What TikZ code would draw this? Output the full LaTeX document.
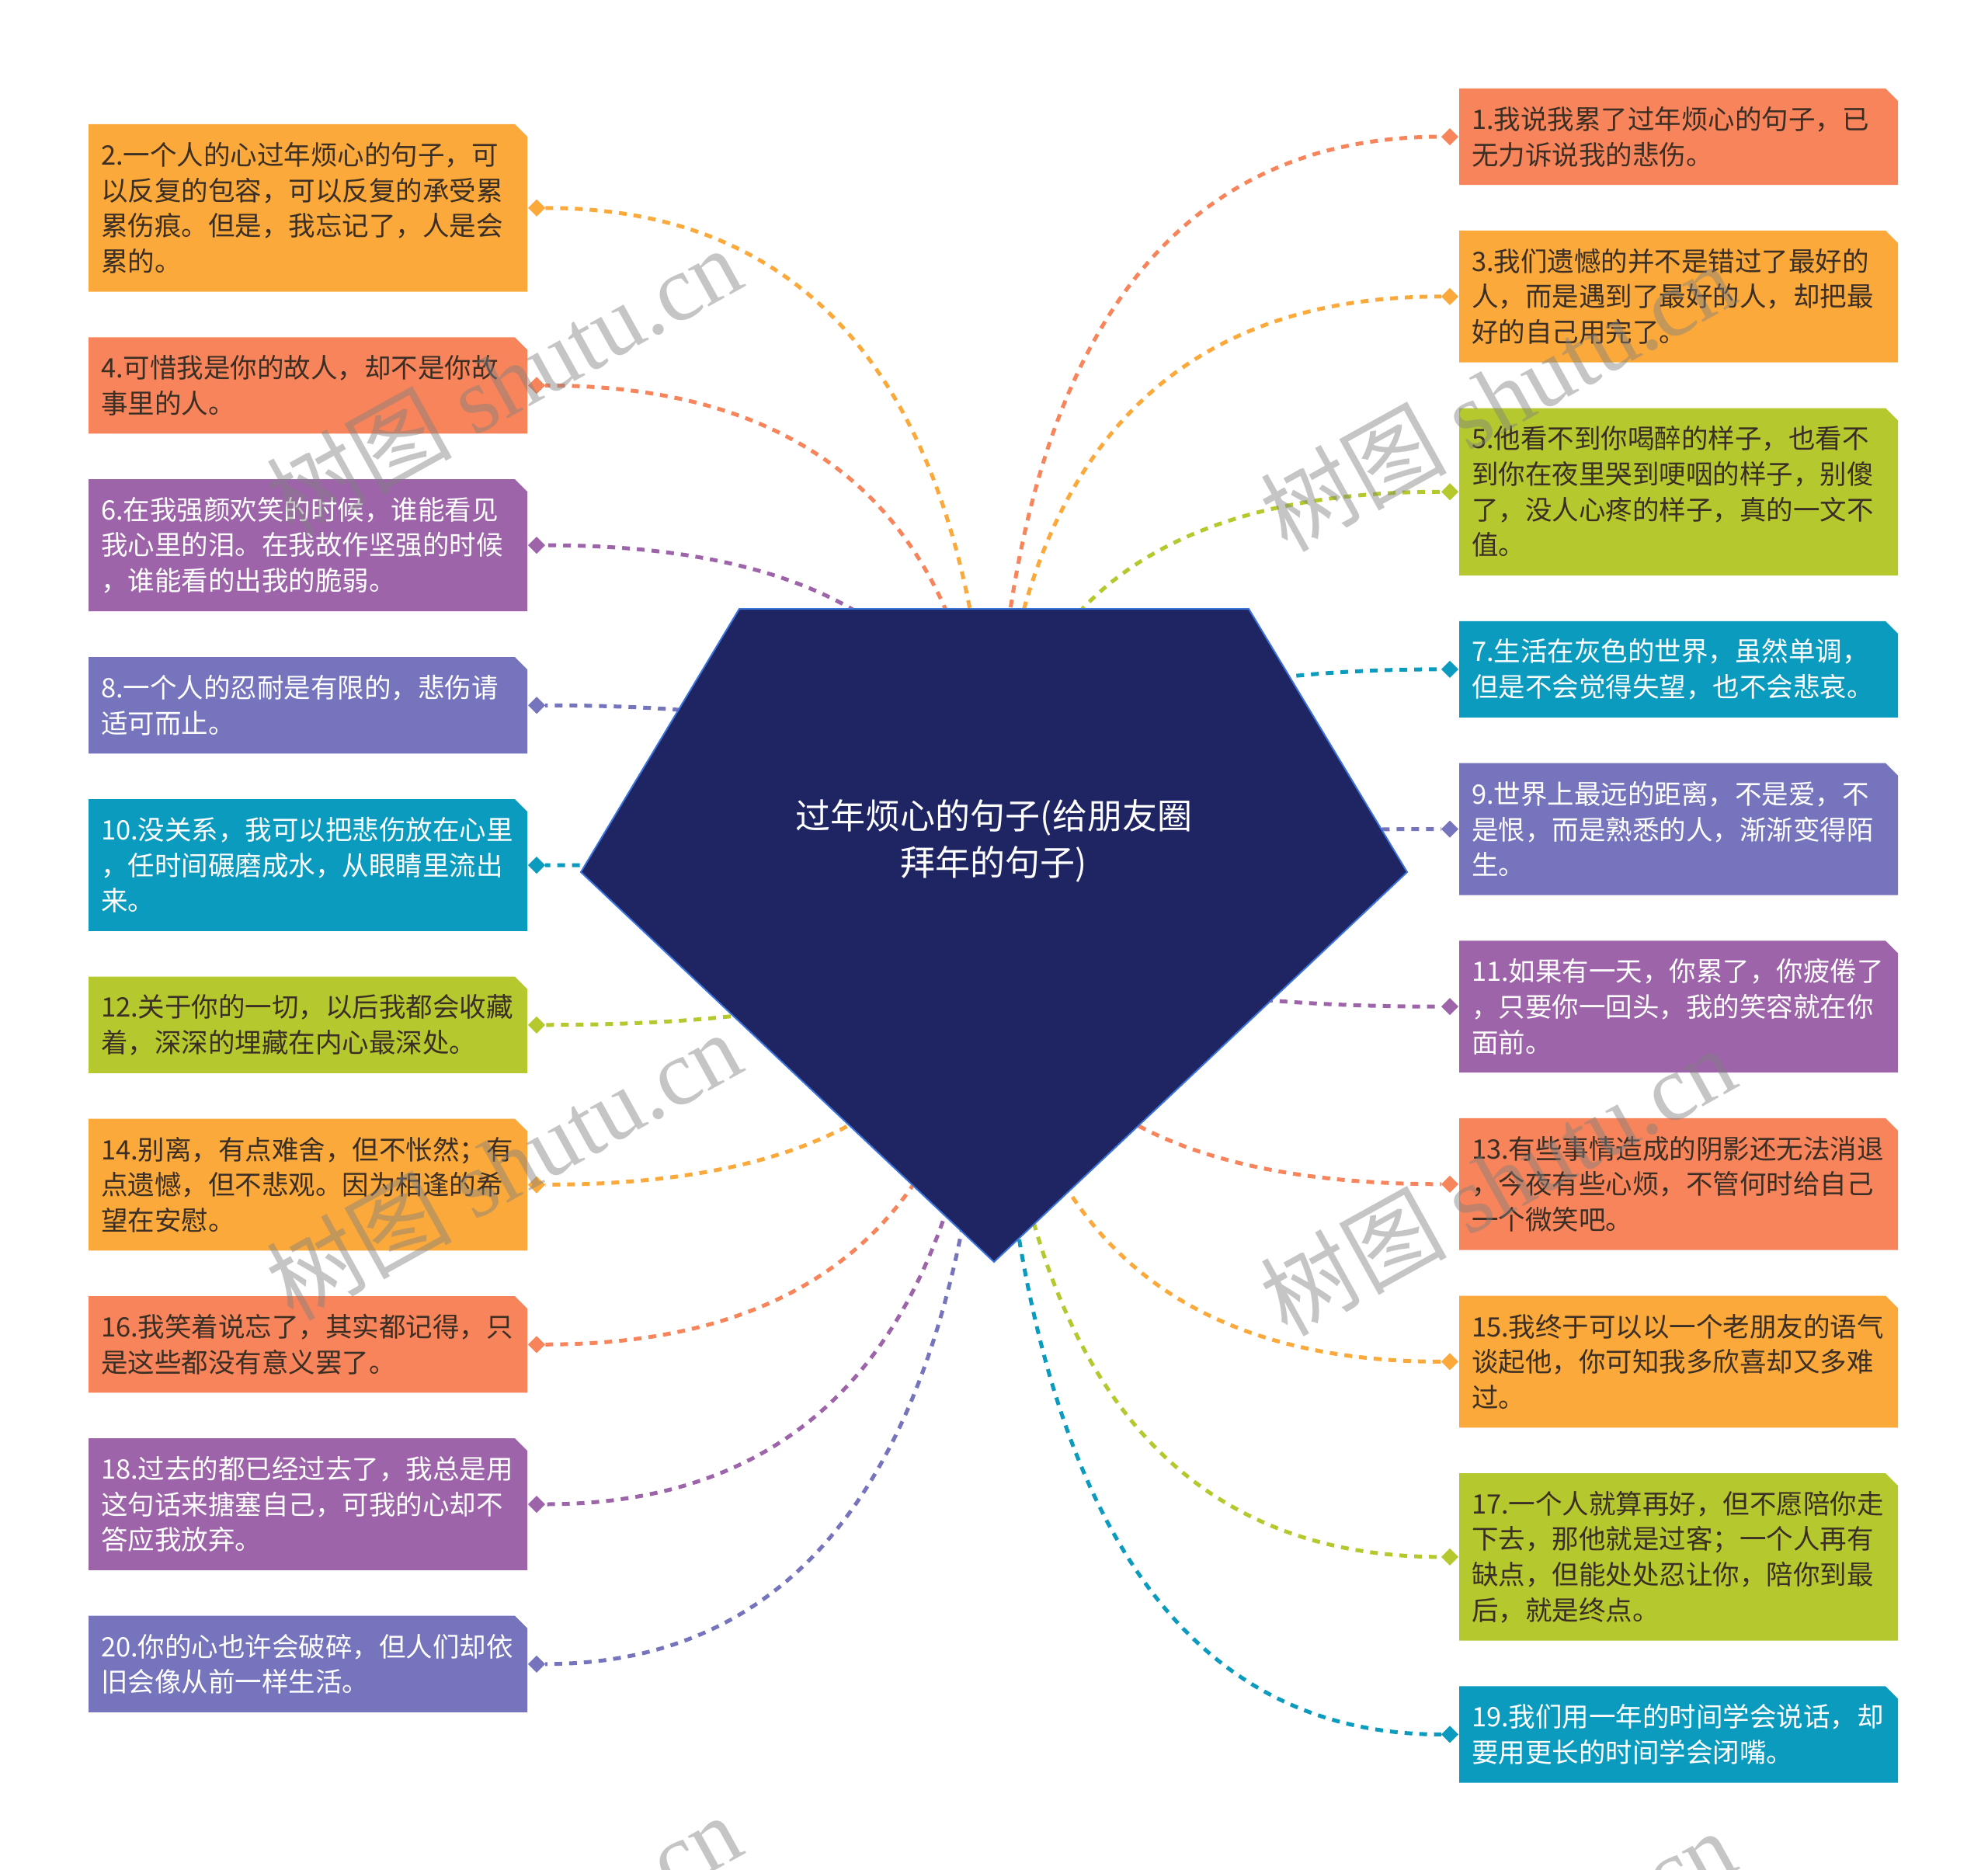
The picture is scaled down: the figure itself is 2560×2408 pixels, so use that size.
\documentclass[tikz,border=0pt]{standalone}
\usepackage{fontspec}
\setmainfont{Noto Sans CJK SC}
\newfontfamily\wmlat{Liberation Serif}
\usetikzlibrary{shapes.geometric,calc,backgrounds}
\definecolor{cO}{HTML}{F7845A}
\definecolor{cY}{HTML}{FBA93A}
\definecolor{cG}{HTML}{B5C92E}
\definecolor{cP}{HTML}{9E64AA}
\definecolor{cL}{HTML}{7574BC}
\definecolor{cT}{HTML}{0A9BBE}
\definecolor{txtdark}{HTML}{3A2E25}
\definecolor{rootfill}{HTML}{1F2563}
\definecolor{rootline}{HTML}{3B73D9}
\definecolor{wmgray}{HTML}{808080}
\newcommand\chamferfill[2]{\fill[#2] (#1.south west) -- (#1.north west) -- ([xshift=-16pt]#1.north east) -- ([yshift=-16pt]#1.north east) -- (#1.south east) -- cycle;}
\tikzset{
  tbox/.style={rectangle, outer sep=0pt, inner xsep=16pt, inner ysep=0pt, minimum width=565pt,
    text width=533pt, align=left, anchor=north west, font=\fontsize{34.5}{45.7}\selectfont},
  dk/.style={text=txtdark},
  wt/.style={text=white},
  hA/.style={minimum height=124.1pt},
  hB/.style={minimum height=169.8pt},
  hC/.style={minimum height=215.5pt},
  dia/.style={diamond, inner sep=0pt, minimum width=22pt, minimum height=22pt, outer sep=0pt},
  conn/.style={line width=5pt, dash pattern=on 10pt off 9pt},
  wm/.style={rotate=29, text=wmgray, text opacity=0.45, font=\fontsize{120}{130}\selectfont, inner sep=0pt}
}
\begin{document}
\begin{tikzpicture}[x=1pt,y=-1pt]
\useasboundingbox (0,0) rectangle (2560,2408);
\clip (0,0) rectangle (2560,2408);
\begin{pgfonlayer}{background}
\fill[white] (0,0) rectangle (2560,2408);
\end{pgfonlayer}

% left boxes
\node[tbox,hC,dk] (b2) at (114,160) {2.一个人的心过年烦心的句子，可\\以反复的包容，可以反复的承受累\\累伤痕。但是，我忘记了，人是会\\累的。};
\node[tbox,hA,dk] (b4) at (114,434.3) {4.可惜我是你的故人，却不是你故\\事里的人。};
\node[tbox,hB,wt] (b6) at (114,617.2) {6.在我强颜欢笑的时候，谁能看见\\我心里的泪。在我故作坚强的时候\\，谁能看的出我的脆弱。};
\node[tbox,hA,wt] (b8) at (114,846.2) {8.一个人的忍耐是有限的，悲伤请\\适可而止。};
\node[tbox,hB,wt] (b10) at (114,1029.1) {10.没关系，我可以把悲伤放在心里\\，任时间碾磨成水，从眼睛里流出\\来。};
\node[tbox,hA,dk] (b12) at (114,1257.7) {12.关于你的一切，以后我都会收藏\\着，深深的埋藏在内心最深处。};
\node[tbox,hB,dk] (b14) at (114,1440.6) {14.别离，有点难舍，但不怅然；有\\点遗憾，但不悲观。因为相逢的希\\望在安慰。};
\node[tbox,hA,dk] (b16) at (114,1669.2) {16.我笑着说忘了，其实都记得，只\\是这些都没有意义罢了。};
\node[tbox,hB,wt] (b18) at (114,1852.1) {18.过去的都已经过去了，我总是用\\这句话来搪塞自己，可我的心却不\\答应我放弃。};
\node[tbox,hA,wt] (b20) at (114,2080.7) {20.你的心也许会破碎，但人们却依\\旧会像从前一样生活。};

% right boxes
\node[tbox,hA,dk] (b1) at (1879,114) {1.我说我累了过年烦心的句子，已\\无力诉说我的悲伤。};
\node[tbox,hB,dk] (b3) at (1879,296.9) {3.我们遗憾的并不是错过了最好的\\人，而是遇到了最好的人，却把最\\好的自己用完了。};
\node[tbox,hC,dk] (b5) at (1879,525.5) {5.他看不到你喝醉的样子，也看不\\到你在夜里哭到哽咽的样子，别傻\\了，没人心疼的样子，真的一文不\\值。};
\node[tbox,hA,wt] (b7) at (1879,799.8) {7.生活在灰色的世界，虽然单调，\\但是不会觉得失望，也不会悲哀。};
\node[tbox,hB,wt] (b9) at (1879,982.7) {9.世界上最远的距离，不是爱，不\\是恨，而是熟悉的人，渐渐变得陌\\生。};
\node[tbox,hB,wt] (b11) at (1879,1211.3) {11.如果有一天，你累了，你疲倦了\\，只要你一回头，我的笑容就在你\\面前。};
\node[tbox,hB,dk] (b13) at (1879,1439.9) {13.有些事情造成的阴影还无法消退\\，今夜有些心烦，不管何时给自己\\一个微笑吧。};
\node[tbox,hB,dk] (b15) at (1879,1668.5) {15.我终于可以以一个老朋友的语气\\谈起他，你可知我多欣喜却又多难\\过。};
\node[tbox,hC,dk] (b17) at (1879,1897.1) {17.一个人就算再好，但不愿陪你走\\下去，那他就是过客；一个人再有\\缺点，但能处处忍让你，陪你到最\\后，就是终点。};
\node[tbox,hA,wt] (b19) at (1879,2171.4) {19.我们用一年的时间学会说话，却\\要用更长的时间学会闭嘴。};

% diamonds
\foreach \n/\c in {2/cY,4/cO,6/cP,8/cL,10/cT,12/cG,14/cY,16/cO,18/cP,20/cL}
  \node[dia,fill=\c] (d\n) at ([xshift=12pt]b\n.east) {};
\foreach \n/\c in {1/cO,3/cY,5/cG,7/cT,9/cL,11/cP,13/cO,15/cY,17/cG,19/cT}
  \node[dia,fill=\c] (d\n) at ([xshift=-12pt]b\n.west) {};

% centre
\coordinate (hub) at (1278,1123);
\fill[rootfill, draw=rootline, line width=2pt, line join=miter]
  (952,784) -- (1608,784) -- (1812,1123) -- (1280,1625) -- (748,1123) -- cycle;
\node[text=white, align=center, font=\fontsize{45}{60}\selectfont] (root) at (1280,1083)
  {过年烦心的句子(给朋友圈\\拜年的句子)};

\begin{pgfonlayer}{background}
\foreach \n/\c in {1/cO,2/cY,3/cY,4/cO,5/cG,6/cP,7/cT,8/cL,9/cL,10/cT,11/cP,12/cG,13/cO,14/cY,15/cY,16/cO,17/cG,18/cP,19/cT,20/cL}{
  \chamferfill{b\n}{\c}
  \draw[conn,\c] (hub) .. controls ($(hub)!0.6667!(hub |- d\n)$) and ($(d\n)!0.6667!(hub |- d\n)$) .. (d\n);
}
\end{pgfonlayer}

% watermarks
\node[wm] (wm1) at (648,490) {树图 {\wmlat shutu.cn}};
\node[wm] (wm2) at (1928,510) {树图 {\wmlat shutu.cn}};
\node[wm] (wm3) at (648,1500) {树图 {\wmlat shutu.cn}};
\node[wm] (wm4) at (1928,1520) {树图 {\wmlat shutu.cn}};
\node[wm] (wm5) at (648,2508) {树图 {\wmlat shutu.cn}};
\node[wm] (wm6) at (1928,2528) {树图 {\wmlat shutu.cn}};
\end{tikzpicture}
\end{document}
